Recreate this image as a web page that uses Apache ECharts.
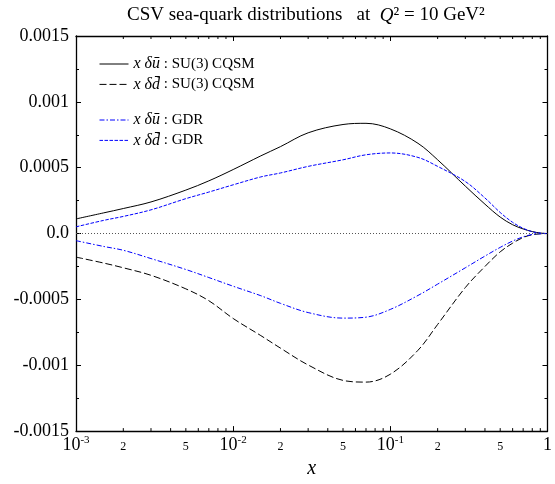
<!DOCTYPE html>
<html>
<head>
<meta charset="utf-8">
<script src="https://cdn.jsdelivr.net/npm/echarts@6/dist/echarts.min.js"></script>
<style>
  html, body { margin: 0; padding: 0; background: #ffffff; }
  #chart { width: 555px; height: 484px; }
</style>
</head>
<body>
<div id="chart"></div>
<script>
// Momentum fraction x (log scale)
const xValues = [0.001, 0.0015, 0.002, 0.003, 0.005, 0.007, 0.01, 0.015, 0.02, 0.03, 0.05, 0.07,
                 0.1, 0.15, 0.2, 0.3, 0.4, 0.5, 0.6, 0.7, 0.8, 0.9, 1.0];

// x*delta(ubar), SU(3) CQSM
const cqsmUbar = [1.11e-4, 1.57e-4, 1.90e-4, 2.40e-4, 3.30e-4, 4.00e-4, 4.86e-4, 5.90e-4, 6.60e-4, 7.65e-4, 8.28e-4, 8.37e-4,
                  7.95e-4, 6.85e-4, 5.60e-4, 3.60e-4, 2.23e-4, 1.25e-4, 6.7e-5, 3.5e-5, 1.5e-5, 4e-6, 0];
// x*delta(dbar), SU(3) CQSM
const cqsmDbar = [-1.79e-4, -2.24e-4, -2.60e-4, -3.17e-4, -4.20e-4, -5.10e-4, -6.45e-4, -7.75e-4, -8.70e-4, -9.98e-4, -1.115e-3, -1.128e-3,
                  -1.068e-3, -8.86e-4, -6.90e-4, -4.10e-4, -2.50e-4, -1.39e-4, -7.3e-5, -3.0e-5, -9e-6, -2e-6, 0];
// x*delta(ubar), GDR
const gdrUbar = [-5.4e-5, -9.8e-5, -1.27e-4, -1.90e-4, -2.73e-4, -3.34e-4, -4.00e-4, -4.72e-4, -5.30e-4, -6.00e-4, -6.42e-4, -6.35e-4,
                 -5.76e-4, -4.70e-4, -3.84e-4, -2.60e-4, -1.71e-4, -1.05e-4, -5.7e-5, -2.5e-5, -7e-6, -1e-6, 0];
// x*delta(dbar), GDR
const gdrDbar = [5.1e-5, 1.00e-4, 1.30e-4, 1.80e-4, 2.65e-4, 3.15e-4, 3.70e-4, 4.30e-4, 4.60e-4, 5.10e-4, 5.60e-4, 5.98e-4,
                 6.12e-4, 5.78e-4, 5.10e-4, 3.95e-4, 2.70e-4, 1.60e-4, 8.5e-5, 4.0e-5, 1.4e-5, 3e-6, 0];

// Axis ticks and their texts
const yTickValues = [0.0015, 0.001, 0.0005, 0, -0.0005, -0.001, -0.0015];
const yTickTexts  = ['0.0015', '0.001', '0.0005', '0.0', '-0.0005', '-0.001', '-0.0015'];
const xMajorTicks = [0.001, 0.01, 0.1, 1];
const xMajorBase  = ['10', '10', '10', '1'];
const xMajorExp   = ['-3', '-2', '-1', ''];
const xMinorTicks = [0.002, 0.003, 0.004, 0.005, 0.006, 0.007, 0.008, 0.009,
                     0.02, 0.03, 0.04, 0.05, 0.06, 0.07, 0.08, 0.09,
                     0.2, 0.3, 0.4, 0.5, 0.6, 0.7, 0.8, 0.9];
const xMinorLabelValues = [0.002, 0.005, 0.02, 0.05, 0.2, 0.5];
const xMinorLabelTexts  = ['2', '5', '2', '5', '2', '5'];

// Legend texts: [math part, description]
const legendNames = ['cqsmU', 'cqsmD', 'gdrU', 'gdrD'];
const legendMath  = ['x δū', 'x δd\u0304', 'x δū', 'x δd\u0304'];
const legendDesc  = [' : SU(3) CQSM', ' : SU(3) CQSM', ' : GDR', ' : GDR'];

const Y_MIN = -0.0015, Y_MAX = 0.0015;
const SERIF = '"Liberation Serif", "DejaVu Serif", serif';

function pairs(ys) { return xValues.map((x, i) => [x, ys[i]]); }
function sameLog(a, b) { return Math.abs(Math.log10(a) - Math.log10(b)) < 1e-6; }

const chart = echarts.init(document.getElementById('chart'), null, { renderer: 'canvas' });

const legendRich = {
  m: { fontFamily: SERIF, fontStyle: 'italic', fontSize: 16, color: '#000' },
  t: { fontFamily: SERIF, fontSize: 15, color: '#000' }
};
function legendFormatter(name) {
  const i = legendNames.indexOf(name);
  return '{m|' + legendMath[i] + '}{t|' + legendDesc[i] + '}';
}

const legendBase = {
  orient: 'vertical', left: 99, padding: 0, itemWidth: 29, itemHeight: 14, itemGap: 4.4,
  formatter: legendFormatter, textStyle: { rich: legendRich }, selectedMode: false,
  itemStyle: { opacity: 0 },
  lineStyle: { width: 1 }
};

const option = {
  animation: false,
  backgroundColor: '#ffffff',
  title: {
    left: 122,
    top: 1,
    text: '{a|CSV sea-quark distributions}{b|   at  }{i|Q}{b|² = 10 GeV²}',
    textStyle: {
      fontWeight: 'normal',
      rich: {
        a: { fontFamily: SERIF, fontSize: 19, fontWeight: 'normal', color: '#000' },
        b: { fontFamily: SERIF, fontSize: 19, fontWeight: 'normal', color: '#000' },
        i: { fontFamily: SERIF, fontSize: 19, fontWeight: 'normal', fontStyle: 'italic', color: '#000' }
      }
    }
  },
  grid: { left: 76, right: 6, top: 36, bottom: 49, containLabel: false },
  legend: [
    Object.assign({}, legendBase, { top: 56, data: ['cqsmU', 'cqsmD'] }),
    Object.assign({}, legendBase, { top: 112, data: ['gdrU', 'gdrD'] })
  ],
  xAxis: [
    {
      type: 'log', logBase: 10, min: 0.001, max: 1, position: 'bottom',
      name: 'x', nameLocation: 'middle', nameGap: 23,
      nameTextStyle: { fontFamily: SERIF, fontStyle: 'italic', fontSize: 20, color: '#000' },
      axisLine: { show: true, onZero: false, lineStyle: { color: '#000', width: 1.3 } },
      axisTick: { show: true, inside: true, length: 5, lineStyle: { color: '#000' } },
      splitLine: { show: false },
      axisLabel: {
        margin: 4,
        formatter: function (v) {
          const i = xMajorTicks.findIndex(t => sameLog(t, v));
          if (i < 0) return '';
          return '{b|' + xMajorBase[i] + '}' + (xMajorExp[i] ? '{s|' + xMajorExp[i] + '}' : '');
        },
        rich: {
          b: { fontFamily: SERIF, fontSize: 18, color: '#000', lineHeight: 20 },
          s: { fontFamily: SERIF, fontSize: 11, color: '#000', lineHeight: 11, verticalAlign: 'top' }
        }
      }
    },
    {
      type: 'log', logBase: 10, min: 0.001, max: 1, position: 'top',
      axisLine: { show: true, onZero: false, lineStyle: { color: '#000', width: 1.3 } },
      axisTick: { show: true, inside: true, length: 5, lineStyle: { color: '#000' } },
      axisLabel: { show: false },
      splitLine: { show: false }
    }
  ],
  yAxis: [
    {
      type: 'value', min: Y_MIN, max: Y_MAX, interval: 0.0005, position: 'left',
      axisLine: { show: true, onZero: false, lineStyle: { color: '#000', width: 1.3 } },
      axisTick: { show: true, inside: true, length: 5, lineStyle: { color: '#000' } },
      minorTick: { show: true, splitNumber: 2, length: 3, lineStyle: { color: '#000' } },
      splitLine: { show: false },
      axisLabel: {
        margin: 7,
        fontFamily: SERIF, fontSize: 18, color: '#000',
        formatter: function (v) {
          const i = yTickValues.findIndex(t => Math.abs(t - v) < 1e-9);
          return i < 0 ? '' : yTickTexts[i];
        }
      }
    },
    {
      type: 'value', min: Y_MIN, max: Y_MAX, interval: 0.0005, position: 'right',
      axisLine: { show: true, onZero: false, lineStyle: { color: '#000', width: 1.3 } },
      axisTick: { show: true, inside: true, length: 5, lineStyle: { color: '#000' } },
      minorTick: { show: true, splitNumber: 2, length: 3, lineStyle: { color: '#000' } },
      splitLine: { show: false },
      axisLabel: { show: false }
    }
  ],
  series: [
    {
      name: 'cqsmU', type: 'line', data: pairs(cqsmUbar), symbol: 'none', smooth: 0.35,
      lineStyle: { color: '#000', width: 1, type: 'solid' }, itemStyle: { color: '#000' },
      markLine: {
        silent: true, symbol: 'none', label: { show: false },
        lineStyle: { color: '#555', width: 1, type: [1, 2] },
        data: [{ yAxis: 0 }]
      }
    },
    {
      name: 'cqsmD', type: 'line', data: pairs(cqsmDbar), symbol: 'none', smooth: 0.35,
      lineStyle: { color: '#000', width: 1, type: [7, 3] }, itemStyle: { color: '#000' }
    },
    {
      name: 'gdrU', type: 'line', data: pairs(gdrUbar), symbol: 'none', smooth: 0.35,
      lineStyle: { color: '#0000ff', width: 1, type: [5, 2, 1.5, 2] }, itemStyle: { color: '#0000ff' }
    },
    {
      name: 'gdrD', type: 'line', data: pairs(gdrDbar), symbol: 'none', smooth: 0.35,
      lineStyle: { color: '#0000ff', width: 1, type: [3.5, 1.5] }, itemStyle: { color: '#0000ff' }
    },
    {
      // minor decade ticks (2..9) on bottom and top edges, with "2" and "5" labels
      name: 'minorTicks', type: 'custom', silent: true, clip: false,
      data: xMinorTicks.map(v => [v, 0]),
      renderItem: function (params, api) {
        const x = api.value(0);
        const b = api.coord([x, Y_MIN]);
        const t = api.coord([x, Y_MAX]);
        const children = [
          { type: 'line', shape: { x1: b[0], y1: b[1], x2: b[0], y2: b[1] - 3 }, style: { stroke: '#000', lineWidth: 1 } },
          { type: 'line', shape: { x1: t[0], y1: t[1], x2: t[0], y2: t[1] + 3 }, style: { stroke: '#000', lineWidth: 1 } }
        ];
        const li = xMinorLabelValues.findIndex(v => sameLog(v, x));
        if (li >= 0) {
          children.push({
            type: 'text', x: b[0], y: b[1] + 16,
            style: { text: xMinorLabelTexts[li], fontFamily: SERIF, fontSize: 12, fill: '#000', align: 'center', verticalAlign: 'middle' }
          });
        }
        return { type: 'group', children: children };
      }
    }
  ]
};

chart.setOption(option);
</script>
</body>
</html>
